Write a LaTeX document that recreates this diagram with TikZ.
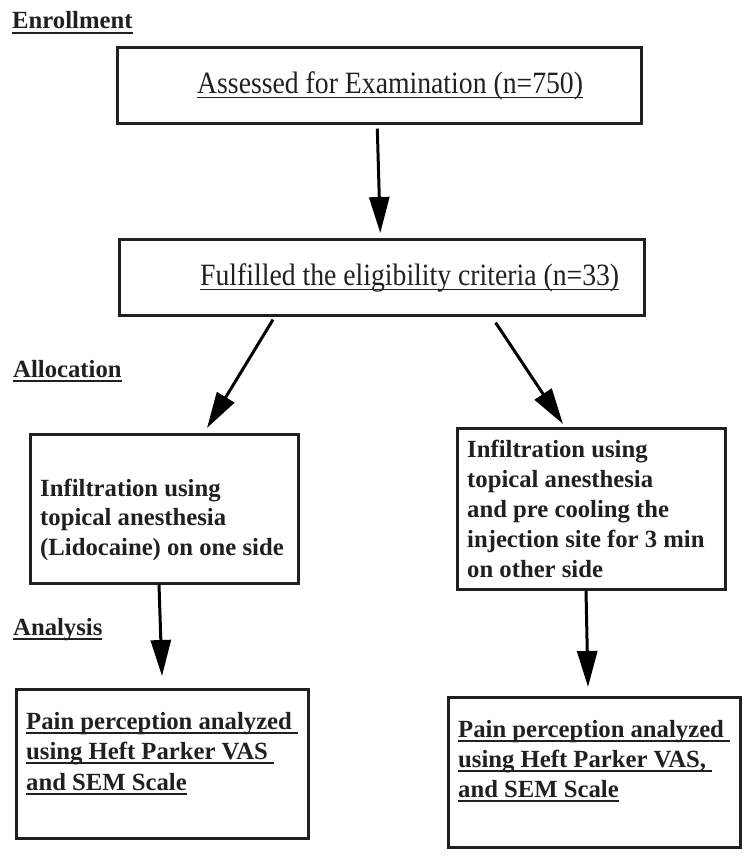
\documentclass[tikz,border=0pt]{standalone}
\usepackage{fontspec}
\setmainfont{Liberation Serif}
\newfontfamily\regc[FakeStretch=0.894]{Liberation Serif}
\usetikzlibrary{arrows.meta}
\definecolor{ink}{RGB}{35,31,32}
\newsavebox\ulbx
\newcommand\ulb[1]{\sbox\ulbx{#1}\rlap{\rule[-4.6pt]{\wd\ulbx}{1.9pt}}\usebox\ulbx}
\newcommand\ulr[1]{\sbox\ulbx{#1}\rlap{\rule[-4.8pt]{\wd\ulbx}{1.3pt}}\usebox\ulbx}
\tikzset{
  box/.style={draw=ink, line width=2.6pt, rectangle, inner sep=0pt, anchor=north west},
  arr/.style={draw=black, line width=3pt, -{Triangle[length=36pt,width=20pt]}},
  bld/.style={anchor=base west, font=\fontsize{24.7}{30}\selectfont\bfseries, text=ink, inner sep=0pt},
  reg/.style={anchor=base west, font=\fontsize{31}{36}\selectfont\regc, text=ink, inner sep=0pt},
}
\begin{document}
\begin{tikzpicture}[x=1pt,y=-1pt]
\useasboundingbox (0,0) rectangle (752,859);
% section headings
\node[bld] (h1) at (12,29) {\ulb{Enrollment}};
\node[bld] (h2) at (13,377) {\ulb{Allocation}};
\node[bld] (h3) at (13,635) {\ulb{Analysis}};
% boxes
\node[box, minimum width=524pt, minimum height=76pt] (b1) at (116,46) {};
\node[box, minimum width=525pt, minimum height=76pt] (b2) at (118,238) {};
\node[box, minimum width=268pt, minimum height=149pt] (b3l) at (29,433) {};
\node[box, minimum width=268pt, minimum height=161pt] (b3r) at (456,427) {};
\node[box, minimum width=292pt, minimum height=149pt] (b4l) at (15,688) {};
\node[box, minimum width=292pt, minimum height=150pt] (b4r) at (447,696) {};
% texts
\node[reg] (t1) at (197,93) {\ulr{Assessed for Examination (n=750)}};
\node[reg] (t2) at (200,285) {\ulr{Fulfilled the eligibility criteria (n=33)}};
\node[bld] (t3l) at (40,496) {\vtop{\baselineskip=29.5pt
  \hbox{Infiltration using}
  \hbox{topical anesthesia}
  \hbox{(Lidocaine) on one side}}};
\node[bld] (t3r) at (467,457) {\vtop{\baselineskip=30pt
  \hbox{Infiltration using}
  \hbox{topical anesthesia}
  \hbox{and pre cooling the}
  \hbox{injection site for 3 min}
  \hbox{on other side}}};
\node[bld] (t4l) at (26,729) {\vtop{\baselineskip=30.5pt
  \hbox{\ulb{Pain perception analyzed\ }}
  \hbox{\ulb{using Heft Parker VAS\ }}
  \hbox{\ulb{and SEM Scale}}}};
\node[bld] (t4r) at (458,737) {\vtop{\baselineskip=30pt
  \hbox{\ulb{Pain perception analyzed\ }}
  \hbox{\ulb{using Heft Parker VAS,\ }}
  \hbox{\ulb{and SEM Scale}}}};
% arrows
\draw[arr] ([xshift=-2pt,yshift=-4pt]b1.south) -- ([xshift=-1.5pt,yshift=5pt]b2.north);
\draw[arr] ([xshift=155pt,yshift=-3pt]b2.south west) -- ([xshift=178pt,yshift=5pt]b3l.north west);
\draw[arr] ([xshift=-150pt,yshift=-6pt]b2.south east) -- ([xshift=107pt,yshift=3pt]b3r.north west);
\draw[arr] ([xshift=130pt]b3l.south west) -- ([xshift=147pt,yshift=12pt]b4l.north west);
\draw[arr] ([xshift=130pt]b3r.south west) -- ([xshift=141pt,yshift=9pt]b4r.north west);
\end{tikzpicture}
\end{document}
